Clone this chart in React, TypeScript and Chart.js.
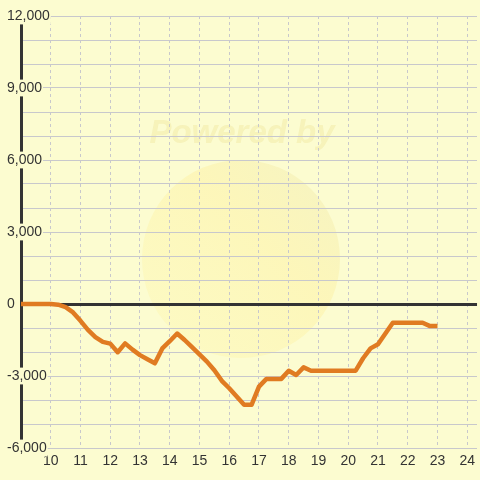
import React, { useEffect, useRef } from "react";
import { Chart, registerables } from "chart.js";

Chart.register(...registerables);

const times: number[] = [
  9, 9.25, 9.5, 9.75, 10, 10.25, 10.5, 10.75, 11, 11.25, 11.5, 11.75,
  12, 12.25, 12.5, 12.75, 13, 13.25, 13.5, 13.75, 14, 14.25, 14.5, 14.75,
  15, 15.25, 15.5, 15.75, 16, 16.25, 16.5, 16.75, 17, 17.25, 17.5, 17.75,
  18, 18.25, 18.5, 18.75, 19, 19.25, 19.5, 19.75, 20, 20.25, 20.5, 20.75,
  21, 21.25, 21.5, 21.75, 22, 22.25, 22.5, 22.75, 23,
];

const values: number[] = [
  0, 0, 0, 0, 0, -30, -130, -350, -700, -1080, -1380, -1580,
  -1650, -2010, -1640, -1900, -2130, -2300, -2470, -1850, -1550, -1230, -1500, -1800,
  -2100, -2400, -2760, -3200, -3510, -3850, -4200, -4200, -3440, -3120, -3120, -3120,
  -2780, -2960, -2640, -2780, -2780, -2780, -2780, -2780, -2780, -2780, -2260, -1850,
  -1680, -1230, -780, -780, -780, -780, -780, -920, -920,
];

const xTicks: number[] = [10, 11, 12, 13, 14, 15, 16, 17, 18, 19, 20, 21, 22, 23, 24];
const yMin = -6000;
const yMax = 12000;
const yLabelStep = 3000;
const yGridStep = 1000;
const xMin = 9;
const xMax = 24.33;

const BG = "#fcfcd0";
const GRID = "#c8c8cc";
const FONT = "'Liberation Sans', Arial, sans-serif";

const watermark = {
  id: "watermark",
  beforeDraw(chart: any) {
    const ctx = chart.ctx as CanvasRenderingContext2D;
    ctx.save();
    ctx.fillStyle = BG;
    ctx.fillRect(0, 0, chart.width, chart.height);
    const cx = 241, cy = 259, r = 99;
    const g = ctx.createLinearGradient(cx - r, cy + r, cx + r, cy - r);
    g.addColorStop(0, "rgba(255,240,130,0.15)");
    g.addColorStop(0.6, "rgba(255,230,120,0.25)");
    g.addColorStop(1, "rgba(225,220,160,0.28)");
    ctx.fillStyle = g;
    ctx.beginPath();
    ctx.arc(cx, cy, r, 0, Math.PI * 2);
    ctx.fill();
    ctx.font = `italic bold 33px ${FONT}`;
    ctx.fillStyle = "rgba(232,215,120,0.25)";
    ctx.textAlign = "center";
    ctx.textBaseline = "middle";
    ctx.fillText("Powered by", 242, 134);
    ctx.restore();
  },
};

export default function App() {
  const ref = useRef<HTMLCanvasElement | null>(null);

  useEffect(() => {
    if (!ref.current) return;
    const points = times.map((t, i) => ({ x: t, y: values[i] }));
    const chart = new Chart(ref.current, {
      type: "line",
      data: {
        datasets: [
          {
            data: points,
            borderColor: "#e07b22",
            borderWidth: 4.5,
            pointRadius: 0,
            tension: 0,
            fill: false,
            borderJoinStyle: "round",
          },
        ],
      },
      options: {
        responsive: false,
        animation: false,
        devicePixelRatio: 1,
        layout: { padding: { left: 6, top: 16, right: 0, bottom: 0 } },
        plugins: {
          legend: { display: false },
          tooltip: { enabled: false },
        },
        scales: {
          x: {
            type: "linear",
            min: xMin,
            max: xMax,
            afterBuildTicks: (scale: any) => {
              scale.ticks = xTicks.map((v) => ({ value: v }));
            },
            afterFit: (scale: any) => {
              scale.height = 32;
            },
            border: { display: false, dash: [3, 3] },
            grid: {
              color: GRID,
              lineWidth: 1,
              drawTicks: false,
            },
            ticks: {
              padding: 5,
              color: "#333",
              font: { family: FONT, size: 14 },
              callback: (v: any) => String(v),
              maxRotation: 0,
              autoSkip: false,
            },
          },
          y: {
            type: "linear",
            min: yMin,
            max: yMax,
            afterFit: (scale: any) => {
              scale.width = 15;
            },
            border: { display: true, color: "#333", width: 3 },
            grid: {
              color: (ctx: any) => (ctx.tick && ctx.tick.value === 0 ? "#333" : GRID),
              lineWidth: (ctx: any) => (ctx.tick && ctx.tick.value === 0 ? 3 : 1),
              drawTicks: false,
            },
            ticks: {
              stepSize: yGridStep,
              z: 1,
              mirror: true,
              crossAlign: "near",
              padding: -14,
              color: "#333",
              font: { family: FONT, size: 14 },
              autoSkip: false,
              showLabelBackdrop: (ctx: any) => ctx.tick && ctx.tick.value % yLabelStep === 0,
              backdropColor: BG,
              backdropPadding: { top: 0, bottom: 0, left: 1, right: 1 },
              callback: (v: any) =>
                Number(v) % yLabelStep === 0 ? Number(v).toLocaleString("en-US") : "",
            },
          },
        },
      } as any,
      plugins: [watermark],
    });
    return () => chart.destroy();
  }, []);

  return (
    <div style={{ position: "fixed", left: 0, top: 0, width: 480, height: 480, background: BG }}>
      <canvas ref={ref} width={480} height={480} style={{ display: "block" }} />
    </div>
  );
}
